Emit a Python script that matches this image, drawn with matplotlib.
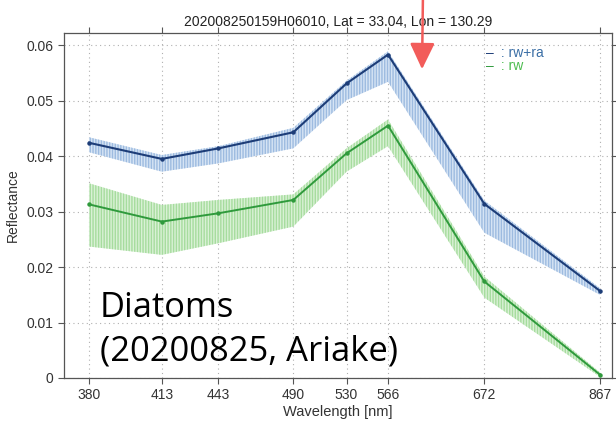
import numpy as np
import matplotlib
matplotlib.use("Agg")
import matplotlib.pyplot as plt
from matplotlib.patches import FancyArrowPatch

# Wavelengths (nm) and reflectance spectra
wavelengths = [380, 413, 443, 490, 530, 566, 672, 867]
rw_ra = [0.0424, 0.0395, 0.0414, 0.0443, 0.0531, 0.0583, 0.0314, 0.0157]
rw_ra_low = [0.0407, 0.0372, 0.0387, 0.0414, 0.0501, 0.0534, 0.0262, 0.0150]
rw_ra_high = [0.0434, 0.0402, 0.0418, 0.0451, 0.0536, 0.0589, 0.0320, 0.0162]
rw = [0.0313, 0.0282, 0.0297, 0.0321, 0.0405, 0.0455, 0.0174, 0.0006]
rw_low = [0.0237, 0.0222, 0.0243, 0.0273, 0.0372, 0.0418, 0.0145, 0.0002]
rw_high = [0.0351, 0.0312, 0.0321, 0.0331, 0.0414, 0.0466, 0.0183, 0.0010]
y_ticks = [0, 0.01, 0.02, 0.03, 0.04, 0.05, 0.06]
y_tick_labels = ["0", "0.01", "0.02", "0.03", "0.04", "0.05", "0.06"]
title = "202008250159H06010, Lat = 33.04, Lon = 130.29"
note_lines = ["Diatoms", "(20200825, Ariake)"]

plt.rcParams["font.family"] = ["Liberation Sans", "DejaVu Sans"]

fig = plt.figure(figsize=(6.16, 4.26), dpi=100)
ax = fig.add_axes([0.104, 0.1127, 0.8895, 0.8098])

# position is 1/wavelength, decreasing to the right
pos = [1.0 / w for w in wavelengths]
ax.set_xlim(1.0 / 369.8, 1.0 / 894.0)
ax.set_ylim(0, 0.0622)

ax.fill_between(pos, rw_ra_low, rw_ra_high, facecolor="#d6e4f4", edgecolor="#9dbbe0",
                hatch="||||||", linewidth=0, zorder=2)
ax.fill_between(pos, rw_low, rw_high, facecolor="#d9f1d5", edgecolor="#a6dc9e",
                hatch="||||||", linewidth=0, zorder=2)
ax.plot(pos, rw_ra, color="#1d3d78", lw=1.5, marker="o", ms=2.2, zorder=4)
ax.plot(pos, rw, color="#2f9a3c", lw=1.4, marker="o", ms=2.2, zorder=4)

ax.set_xticks(pos)
ax.set_xticklabels([str(w) for w in wavelengths], fontsize=10, color="#333333")
ax.set_yticks(y_ticks)
ax.set_yticklabels(y_tick_labels, fontsize=10, color="#333333")
ax.tick_params(direction="out", length=4.5, width=0.8, color="#555555", pad=3,
               top=True, right=True, labeltop=False, labelright=False)
ax.grid(True, color="#b0b0b0", linestyle=(0, (1, 3)), linewidth=0.8)
for s in ax.spines.values():
    s.set_color("#555555")
    s.set_linewidth(0.9)

ax.set_title(title, fontsize=10, color="#222222", pad=5)
ax.set_xlabel("Wavelength [nm]", fontsize=10.5, color="#333333", labelpad=2)
ax.set_ylabel("Reflectance", fontsize=10, color="#333333", labelpad=5)

# legend entries
ax.text(0.770, 0.942, "–", transform=ax.transAxes, fontsize=10, color="#1d3d78", va="center")
ax.text(0.790, 0.942, " : rw+ra", transform=ax.transAxes, fontsize=10, color="#3a6ea5", va="center")
ax.text(0.770, 0.904, "–", transform=ax.transAxes, fontsize=10, color="#2f9a3c", va="center")
ax.text(0.790, 0.904, " : rw", transform=ax.transAxes, fontsize=10, color="#4cbc4f", va="center")

# annotation
for line, base_px in zip(note_lines, [317, 360]):
    fig.text(100 / 616, 1 - base_px / 426, line, fontsize=24.8, family="Open Sans",
             color="black", va="baseline", ha="left")

# red pointer
fig.add_artist(FancyArrowPatch(
    (423 / 616, 1.02), (422 / 616, 1 - 72 / 426), transform=fig.transFigure,
    arrowstyle="-|>,head_length=8,head_width=3.8", color="#f25c5a", lw=1.8,
    mutation_scale=2))

fig.savefig("out.png", dpi=100)
